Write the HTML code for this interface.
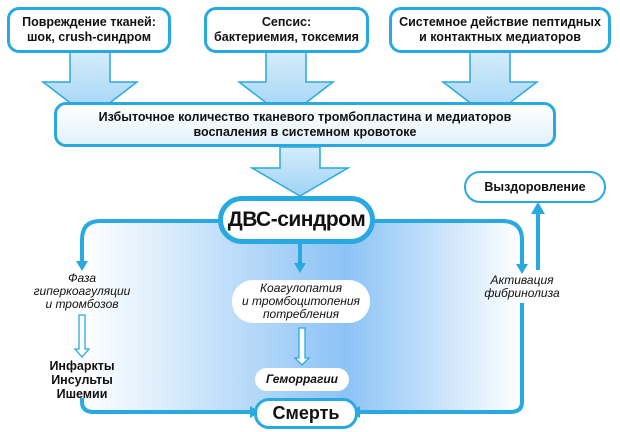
<!DOCTYPE html>
<html><head><meta charset="utf-8"><style>
body{margin:0;width:620px;height:432px;background:#fff;overflow:hidden;position:relative;font-family:"Liberation Sans",sans-serif;}
.b{position:absolute;box-sizing:border-box;text-align:center;font-weight:bold;color:#111;display:flex;align-items:center;justify-content:center;line-height:1.2;white-space:nowrap;}
.i{position:absolute;text-align:center;font-style:italic;color:#111;font-size:12px;line-height:13px;}
</style></head><body>
<svg width="620" height="432" style="position:absolute;left:0;top:0">
<defs>
<linearGradient id="g" x1="0" x2="1" y1="0" y2="0">
<stop offset="0" stop-color="#fff"/><stop offset="0.6" stop-color="#8cc3f5"/><stop offset="1" stop-color="#fff"/>
</linearGradient>
<linearGradient id="a" x1="0" x2="0" y1="0" y2="1"><stop offset="0" stop-color="#d6ecfb"/><stop offset="1" stop-color="#9dd3f5"/></linearGradient>
</defs>
<rect x="82" y="222" width="440" height="191" fill="url(#g)"/>
<g fill="url(#a)" stroke="#29a9e1" stroke-width="1.5">
<path d="M70 52 H110 V82 H137 L90 118 L43 82 H70Z"/>
<path d="M266 52 H306 V82 H333 L286 118 L239 82 H266Z"/>
<path d="M470 52 H510 V82 H537 L490 118 L443 82 H470Z"/>
<path d="M280 147 H320 V168 H348 L300 196 L252 168 H280Z"/>
</g>
<g fill="none" stroke="#29a9e1" stroke-width="4">
<path d="M220 221 H100 Q82 221 82 240 V262"/>
<path d="M372 221 H502 Q522 221 522 240 V266"/>
<path d="M82 398 V402 Q82 412 94 412 H252"/>
<path d="M522 303 V402 Q522 412 510 412 H358"/>
<path d="M300 244 V264"/>
<path d="M538 270 V212"/>
</g>
<g fill="#29a9e1">
<path d="M76 261 H88 L82 271Z"/><path d="M516 264 H528 L522 274Z"/>
<path d="M294 263 H306 L300 273Z"/><path d="M531 214 H545 L538 202Z"/>
<path d="M250 406 L260 412 L250 418Z"/><path d="M360 406 L350 412 L360 418Z"/>
</g>
<g fill="#fff" stroke="#29a9e1" stroke-width="1.3">
<path d="M79 315 H85 V349 H89 L82 357 L75 349 H79Z"/>
<path d="M299 328 H305 V358 H309 L302 365 L295 358 H299Z"/>
</g>
</svg>
<div class="b" style="left:7px;top:7px;width:164px;height:46px;border:3px solid #29a9e1;border-radius:12px;background:#fff;font-size:12.5px">Повреждение тканей:<br>шок, crush-синдром</div>
<div class="b" style="left:204px;top:7px;width:165px;height:46px;border:3px solid #29a9e1;border-radius:12px;background:#fff;font-size:12.5px">Сепсис:<br>бактериемия, токсемия</div>
<div class="b" style="left:389px;top:7px;width:222px;height:46px;border:3px solid #29a9e1;border-radius:12px;background:#fff;font-size:12.5px">Системное действие пептидных<br>и контактных медиаторов</div>
<div class="b" style="left:54px;top:102px;width:502px;height:45px;border:3px solid #29a9e1;border-radius:12px;background:linear-gradient(#fff,#e2f1fc);font-size:12.5px">Избыточное количество тканевого тромбопластина и медиаторов<br>воспаления в системном кровотоке</div>
<div class="b" style="left:218px;top:196px;width:157px;height:48px;border:5px solid #29a9e1;border-radius:24px;background:#fff;font-size:21px;letter-spacing:-0.5px">ДВС-синдром</div>
<div class="b" style="left:464px;top:171px;width:142px;height:32px;border:2px solid #29a9e1;border-radius:16px;background:#fff;font-size:12.5px">Выздоровление</div>
<div class="b" style="left:232px;top:280px;width:138px;height:43px;border-radius:21px;background:#fff;font-size:12px;font-weight:normal;font-style:italic;line-height:13px">Коагулопатия<br>и тромбоцитопения<br>потребления</div>
<div class="b" style="left:255px;top:368px;width:94px;height:23px;border-radius:12px;background:#fff;font-size:12px;font-style:italic">Геморрагии</div>
<div class="b" style="left:254px;top:398px;width:104px;height:31px;border:3px solid #29a9e1;border-radius:15px;background:#fff;font-size:18px">Смерть</div>
<div class="i" style="left:22px;top:272px;width:120px">Фаза<br>гиперкоагуляции<br>и тромбозов</div>
<div class="i" style="left:462px;top:274px;width:120px">Активация<br>фибринолиза</div>
<div class="b" style="left:32px;top:359px;width:100px;font-size:12.5px;display:block;line-height:14px">Инфаркты<br>Инсульты<br>Ишемии</div>
</body></html>
